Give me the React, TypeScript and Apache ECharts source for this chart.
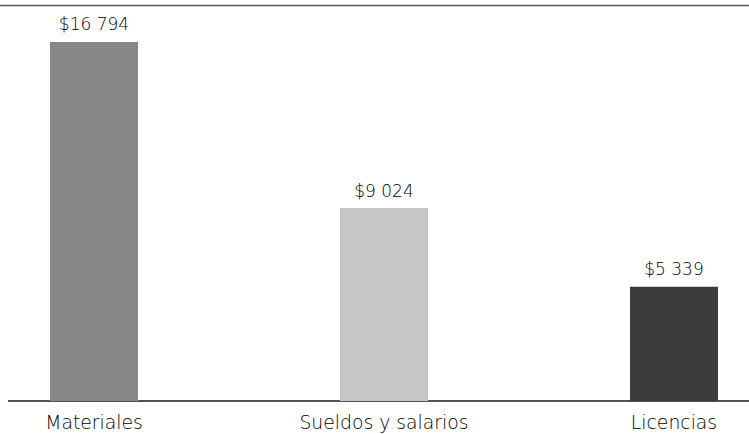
import React, { useEffect, useRef } from "react";
import * as echarts from "echarts";

const categories = ["Materiales", "Sueldos y salarios", "Licencias"];
const values = [16794, 9024, 5339];
const barColors = ["#878787", "#c6c6c6", "#3c3c3b"];
const axisMax = 18500;

function fmt(v: number): string {
  return "$" + String(Math.round(v)).replace(/\B(?=(\d{3})+(?!\d))/g, " ");
}

export default function App() {
  const ref = useRef<HTMLDivElement>(null);
  useEffect(() => {
    if (!ref.current) return;
    const chart = echarts.init(ref.current, undefined, { renderer: "svg" });
    const font = "DejaVu Sans";
    chart.setOption({
      animation: false,
      grid: { left: 94, right: 75, top: 5.5, bottom: 33, containLabel: false },
      xAxis: {
        type: "category",
        data: categories,
        boundaryGap: false,
        axisLine: { show: false },
        axisTick: { show: false },
        axisLabel: {
          color: "#000000",
          fontFamily: font,
          fontWeight: 300,
          fontSize: 18.8,
          margin: 12,
          interval: 0,
        },
      },
      yAxis: {
        type: "value",
        min: 0,
        max: axisMax,
        show: false,
        splitLine: { show: false },
      },
      series: [
        {
          type: "bar",
          barWidth: 88,
          data: values.map((v, i) => ({ value: v, itemStyle: { color: barColors[i] } })),
          label: {
            show: true,
            position: "top",
            distance: 9,
            color: "#000000",
            fontFamily: font,
            fontWeight: 300,
            fontSize: 17,
            formatter: (p: any) => fmt(p.value),
          },
        },
      ],
      graphic: [
        {
          type: "line",
          shape: { x1: 0, y1: 5.5, x2: 749, y2: 5.5 },
          style: { stroke: "#555555", lineWidth: 1.6 },
        },
        {
          type: "line",
          shape: { x1: 8, y1: 401, x2: 749, y2: 401 },
          style: { stroke: "#1a1a1a", lineWidth: 1.3 },
        },
      ],
    });
    return () => chart.dispose();
  }, []);
  return <div ref={ref} style={{ width: 749, height: 434, position: "absolute", left: 0, top: 0 }} />;
}
